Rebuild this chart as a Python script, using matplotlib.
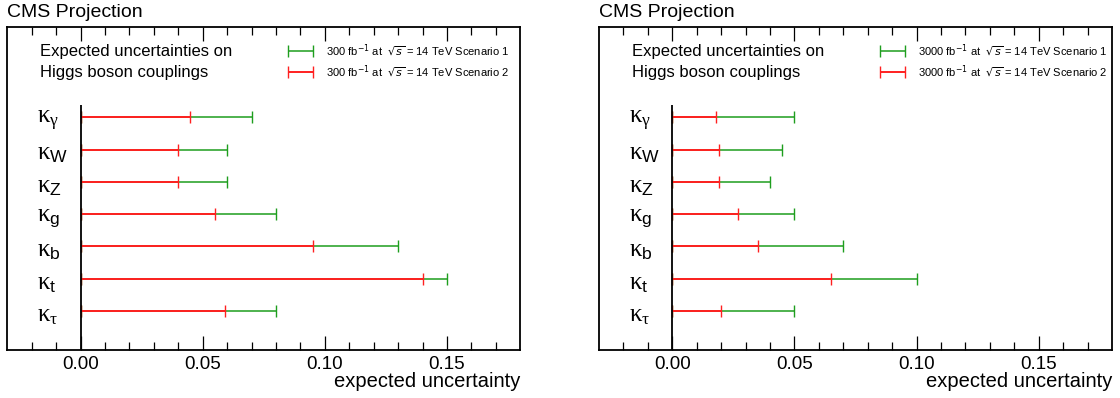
import numpy as np
import matplotlib
matplotlib.use('Agg')
import matplotlib.pyplot as plt
from matplotlib.font_manager import FontProperties
from matplotlib.legend_handler import HandlerErrorbar
from matplotlib.container import ErrorbarContainer

plt.rcParams['font.family'] = ['Liberation Sans', 'DejaVu Sans']
plt.rcParams['mathtext.fontset'] = 'custom'
plt.rcParams['mathtext.rm'] = 'Liberation Serif'
plt.rcParams['mathtext.it'] = 'Liberation Serif'
plt.rcParams['mathtext.sf'] = 'Liberation Sans'

# Data
couplings = ['\\mathrm{γ}', '\\mathsf{W}', '\\mathsf{Z}', '\\mathsf{g}', '\\mathsf{b}', '\\mathsf{t}', '\\mathrm{τ}']
s1_300 = [0.070, 0.060, 0.060, 0.080, 0.130, 0.150, 0.080]
s2_300 = [0.045, 0.040, 0.040, 0.055, 0.095, 0.140, 0.059]
s1_3000 = [0.050, 0.045, 0.040, 0.050, 0.070, 0.100, 0.050]
s2_3000 = [0.018, 0.019, 0.019, 0.027, 0.035, 0.065, 0.020]
lumis = ['300', '3000']

GREEN = '#1e9e1e'
RED = '#ff2020'

fig = plt.figure(figsize=(11.2, 3.98), dpi=100)
ax1 = fig.add_axes([0.0065, 0.1206, 0.458, 0.8108])
ax2 = fig.add_axes([0.5348, 0.1206, 0.458, 0.8108])

ypos = np.arange(len(couplings), 0, -1)


def draw_panel(ax, s1, s2, lumi):
    s1 = np.array(s1)
    s2 = np.array(s2)
    eb1 = ax.errorbar(s1, ypos, xerr=[s1, np.zeros_like(s1)], fmt='none', ecolor=GREEN,
                      elinewidth=1.1, capsize=4, capthick=1.0, zorder=2,
                      label=lumi + ' fb$^{-1}$ at  $\\sqrt{s}$ = 14 TeV Scenario 1')
    eb2 = ax.errorbar(s2, ypos, xerr=[s2, np.zeros_like(s2)], fmt='none', ecolor=RED,
                      elinewidth=1.4, capsize=4, capthick=1.0, zorder=3,
                      label=lumi + ' fb$^{-1}$ at  $\\sqrt{s}$ = 14 TeV Scenario 2')
    ax.vlines(0, -0.3, len(couplings) + 0.38, color='black', lw=1.3, zorder=4)

    for y, c in zip(ypos, couplings):
        ax.text(-0.0178, y - 0.12, '$\\mathrm{κ}_{' + c + '}$', fontsize=18,
                ha='left', va='center')

    ax.set_xlim(-0.03, 0.18)
    ax.set_ylim(-0.207, 9.786)
    ax.set_yticks([])
    ax.set_xticks([0.0, 0.05, 0.10, 0.15])
    ax.set_xticklabels(['0.00', '0.05', '0.10', '0.15'])
    ax.set_xticks(np.arange(-0.02, 0.18, 0.01), minor=True)
    ax.tick_params(axis='x', which='both', direction='in', top=True, bottom=True,
                   labelsize=13.5, pad=4, width=0.9)
    ax.tick_params(axis='x', which='major', length=10)
    ax.tick_params(axis='x', which='minor', length=6)
    for sp in ax.spines.values():
        sp.set_linewidth(1.3)

    ax.set_xlabel('expected uncertainty', fontsize=14.5, ha='right', va='center')
    ax.xaxis.set_label_coords(1.0, -0.097)

    ax.text(0.064, 0.893, 'Expected uncertainties on\nHiggs boson couplings',
            transform=ax.transAxes, fontsize=12, ha='left', va='center',
            linespacing=1.5)

    fp = FontProperties(family='Liberation Sans', size=8, math_fontfamily='dejavusans')
    ax.legend(handles=[eb1, eb2], loc='upper left', bbox_to_anchor=(0.548, 0.953),
              frameon=False, prop=fp, borderpad=0, borderaxespad=0,
              handlelength=2.25, handletextpad=1.15, labelspacing=0.45,
              handler_map={ErrorbarContainer: HandlerErrorbar(xerr_size=1.12)})

    ax.text(0.0, 1.02, 'CMS Projection', transform=ax.transAxes, fontsize=14,
            ha='left', va='bottom')


draw_panel(ax1, s1_300, s2_300, lumis[0])
draw_panel(ax2, s1_3000, s2_3000, lumis[1])

fig.savefig('out.png', dpi=100)
